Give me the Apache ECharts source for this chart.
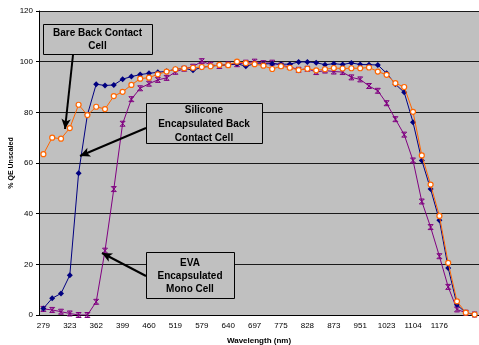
<!DOCTYPE html>
<html>
<head>
<meta charset="utf-8">
<script src="https://cdn.jsdelivr.net/npm/echarts@6/dist/echarts.min.js"></script>
<style>
    html, body { margin: 0; padding: 0; background: #ffffff; }
    #chart { width: 479px; height: 345px; }
</style>
</head>
<body>
<div id="chart"></div>
<script>
// WAVELENGTH CATEGORIES (only every third one is labelled on the axis)
const wavelengths = [
    279, 294, 309, 323, 336, 349, 362, 374, 386, 399,
    419, 440, 460, 480, 499, 519, 539, 559, 579, 599,
    620, 640, 659, 678, 697, 723, 749, 775, 793, 810,
    828, 843, 858, 873, 899, 925, 951, 975, 999, 1023,
    1050, 1077, 1104, 1128, 1152, 1176, 1200, 1224, 1248, 1272
];

// SERIES VALUES (% QE unscaled)
const bareBackContact = [
    2.6, 6.6, 8.5, 15.7, 56.0, 79.0, 91.1, 90.6, 90.8, 93.1,
    94.1, 94.9, 95.4, 95.8, 96.2, 97.0, 97.4, 96.6, 97.8, 98.2,
    98.6, 98.7, 99.2, 98.2, 99.2, 99.1, 99.2, 99.0, 99.0, 99.9,
    99.9, 99.6, 98.8, 99.2, 98.9, 99.5, 98.9, 98.8, 98.7, 95.4,
    91.1, 87.9, 76.1, 61.0, 49.7, 37.4, 18.6, 4.0, 0.9, 0.2
];

const siliconeEncapsulated = [
    63.5, 70.0, 69.6, 73.8, 83.0, 78.9, 82.2, 81.3, 86.4, 88.1,
    90.8, 93.3, 93.7, 95.0, 96.1, 97.0, 97.4, 97.6, 97.9, 98.2,
    98.7, 98.6, 100.0, 99.4, 99.0, 98.4, 97.1, 98.2, 97.6, 96.7,
    97.2, 96.6, 97.0, 97.5, 97.3, 97.4, 97.4, 97.7, 96.1, 94.8,
    91.5, 90.0, 80.2, 63.0, 51.5, 39.1, 20.6, 5.4, 0.9, 0.2
];

const evaEncapsulated = [
    2.4, 2.0, 1.3, 0.6, 0.0, 0.0, 5.2, 25.4, 49.7, 75.5,
    85.2, 89.5, 91.3, 92.8, 93.6, 96.0, 97.2, 98.0, 100.2, 98.8,
    98.3, 98.9, 99.0, 99.6, 100.0, 99.4, 99.6, 98.5, 98.0, 96.8,
    97.2, 95.9, 96.5, 96.1, 95.9, 93.8, 93.0, 90.4, 88.5, 83.6,
    77.3, 71.2, 61.0, 44.8, 34.7, 23.2, 11.1, 2.2, 0.9, 0.2
];

// Y AXIS TICKS
const yTicks = { min: 0, max: 120, interval: 20 };
// last labelled category on the x axis
const lastLabelIndex = 45;

const FONT = '"Liberation Sans", Arial, sans-serif';
const PLOT_BG = '#C0C0C0';

const chartPlaceholder = document.querySelector("#chart");
const chart = echarts.init(chartPlaceholder, null, { renderer: 'canvas' });

// ANNOTATION BOXES
function labelBox(x, y, w, h, text, lineHeight) {
    return {
        type: 'group',
        children: [
            {
                type: 'rect',
                shape: { x: x + 0.5, y: y + 0.5, width: w, height: h },
                style: { fill: PLOT_BG, stroke: '#000', lineWidth: 1 },
                z: 100
            },
            {
                type: 'text',
                x: x + w / 2,
                y: y + h / 2 + 1,
                style: {
                    text: text,
                    font: `bold 10px ${FONT}`,
                    fill: '#000',
                    align: 'center',
                    verticalAlign: 'middle',
                    lineHeight: lineHeight
                },
                z: 101
            }
        ]
    };
}

// ARROWS (pixel positions, drawn as mark lines so they get arrow heads)
const arrows = [
    [{ x: 73, y: 55 }, { x: 65, y: 129 }],
    [{ x: 146, y: 128 }, { x: 80, y: 156 }],
    [{ x: 146, y: 276 }, { x: 102, y: 253 }]
];

const option = {
    animation: false,
    backgroundColor: '#ffffff',
    grid: {
        left: 39,
        right: 0,
        top: 11,
        bottom: 30,
        outerBoundsMode: 'none',
        containLabel: false,
        show: true,
        backgroundColor: PLOT_BG,
        borderWidth: 0
    },
    xAxis: {
        type: 'category',
        data: wavelengths,
        boundaryGap: true,
        name: 'Wavelength (nm)',
        nameLocation: 'middle',
        nameGap: 22,
        nameTextStyle: { fontFamily: FONT, fontSize: 8, fontWeight: 'bold', color: '#000' },
        axisLine: { lineStyle: { color: '#000', width: 1 } },
        axisTick: { interval: 0, length: 3, lineStyle: { color: '#000' } },
        axisLabel: {
            interval: function (index) {
                return index % 3 === 0 && index <= lastLabelIndex;
            },
            hideOverlap: false,
            margin: 7,
            fontFamily: FONT,
            fontSize: 8,
            color: '#000'
        },
        splitLine: { show: false }
    },
    yAxis: {
        type: 'value',
        min: yTicks.min,
        max: yTicks.max,
        interval: yTicks.interval,
        name: '% QE Unscaled',
        nameLocation: 'middle',
        nameGap: 24,
        nameMoveOverlap: false,
        nameTextStyle: { fontFamily: FONT, fontSize: 7, fontWeight: 'bold', color: '#000' },
        axisLine: { show: true, lineStyle: { color: '#000', width: 1 } },
        axisTick: { show: true, length: 3, lineStyle: { color: '#000' } },
        axisLabel: { margin: 6, fontFamily: FONT, fontSize: 8, color: '#000' },
        splitLine: { show: true, lineStyle: { color: '#1a1a1a', width: 1 } }
    },
    series: [
        {
            name: 'EVA Encapsulated Mono Cell',
            type: 'line',
            data: evaEncapsulated,
            showAllSymbol: true,
            symbol: 'path://M0,0L10,10M10,0L0,10M5,0L5,10M0,0L10,0M0,10L10,10',
            symbolSize: 5,
            lineStyle: { color: '#800080', width: 1 },
            itemStyle: { color: 'none', borderColor: '#800080', borderWidth: 1 },
            z: 2
        },
        {
            name: 'Bare Back Contact Cell',
            type: 'line',
            data: bareBackContact,
            showAllSymbol: true,
            symbol: 'diamond',
            symbolSize: 6,
            lineStyle: { color: '#000080', width: 1 },
            itemStyle: { color: '#000080', borderColor: '#000080', borderWidth: 0 },
            z: 3,
            markLine: {
                silent: true,
                animation: false,
                symbol: ['none', 'arrow'],
                symbolSize: [7, 10],
                label: { show: false },
                emphasis: { disabled: true },
                lineStyle: { color: '#000', width: 2, type: 'solid' },
                data: arrows
            }
        },
        {
            name: 'Silicone Encapsulated Back Contact Cell',
            type: 'line',
            data: siliconeEncapsulated,
            showAllSymbol: true,
            symbol: 'circle',
            symbolSize: 5,
            lineStyle: { color: '#FF6600', width: 1 },
            itemStyle: { color: '#ffffff', borderColor: '#FF6600', borderWidth: 1.2 },
            z: 4
        }
    ],
    graphic: [
        labelBox(43, 24, 109, 30, 'Bare Back Contact\nCell', 13),
        labelBox(146, 103, 116, 40, 'Silicone\nEncapsulated Back\nContact Cell', 14),
        labelBox(146, 252, 88, 46, 'EVA\nEncapsulated\nMono Cell', 13)
    ]
};

chart.setOption(option);
</script>
</body>
</html>
